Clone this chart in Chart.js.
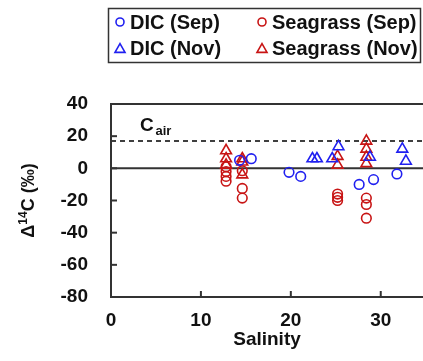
<!DOCTYPE html>
<html><head><meta charset="utf-8">
<script src="https://cdn.jsdelivr.net/npm/chart.js@4.4.1/dist/chart.umd.min.js"></script>
<style>html,body{margin:0;padding:0;background:#fff;overflow:hidden}</style>
</head><body>
<canvas id="c" width="423" height="361"></canvas>
<script>
// ---- data ----
const dicSepSal = [14.3, 15.6, 19.8, 21.1, 27.6, 29.2, 31.8];
const dicSepVal = [5, 6, -2.5, -5, -10, -7, -3.5];
const dicNovSal = [22.4, 22.9, 24.6, 25.3, 28.8, 32.4, 32.8];
const dicNovVal = [6, 6, 6, 13.5, 7, 12, 4.5];
const sgSepSal = [12.8, 12.8, 12.8, 12.8, 14.6, 14.6, 14.6, 25.2, 25.2, 25.2, 28.4, 28.4, 28.4];
const sgSepVal = [1, -2, -5, -8, -1.5, -12.5, -18.5, -16, -18, -20, -18.5, -22.5, -31];
const sgNovSal = [12.8, 12.8, 12.8, 14.6, 14.6, 14.6, 25.2, 25.2, 28.4, 28.4, 28.4, 28.4];
const sgNovVal = [11, 6, 2, 6, 4, -4, 7.5, 2, 17, 12, 7, 3];
const seriesNames = ['DIC (Sep)', 'DIC (Nov)', 'Seagrass (Sep)', 'Seagrass (Nov)'];
const xTicks = [0, 10, 20, 30];
const yTicks = [-80, -60, -40, -20, 0, 20, 40];
const cAir = 17;

const BLUE = '#2020f0', RED = '#c81414';
const FAM = "'Liberation Sans', Arial, Helvetica, sans-serif";
const pts = (xs, ys) => xs.map((x, i) => ({x: x, y: ys[i]}));

function marker(ctx, style, x, y, r, color) {
  ctx.save();
  ctx.strokeStyle = color; ctx.lineWidth = 1.6;
  ctx.beginPath();
  if (style === 'circle') {
    ctx.arc(x, y, r, 0, Math.PI * 2);
  } else {
    ctx.moveTo(x, y - r);
    ctx.lineTo(x + r * Math.sin(2 * Math.PI / 3), y + r / 2);
    ctx.lineTo(x - r * Math.sin(2 * Math.PI / 3), y + r / 2);
    ctx.closePath();
  }
  ctx.stroke();
  ctx.restore();
}

const deco = {
  id: 'deco',
  beforeDatasetsDraw(chart) {
    const {ctx, chartArea: a, scales: {x, y}} = chart;
    ctx.save();
    // C_air dashed line
    const yc = y.getPixelForValue(cAir);
    ctx.strokeStyle = '#000'; ctx.lineWidth = 1.5; ctx.setLineDash([5, 4]);
    ctx.beginPath(); ctx.moveTo(a.left, yc); ctx.lineTo(a.right, yc); ctx.stroke();
    ctx.setLineDash([]);
    // zero line
    const y0 = y.getPixelForValue(0);
    ctx.strokeStyle = '#333'; ctx.lineWidth = 2;
    ctx.beginPath(); ctx.moveTo(a.left, y0); ctx.lineTo(a.right, y0); ctx.stroke();
    // frame (top, left, bottom)
    ctx.beginPath();
    ctx.moveTo(a.right + 2, a.top); ctx.lineTo(a.left, a.top);
    ctx.lineTo(a.left, a.bottom); ctx.lineTo(a.right + 2, a.bottom);
    ctx.stroke();
    // inward ticks
    yTicks.forEach(v => {
      const p = y.getPixelForValue(v);
      ctx.beginPath(); ctx.moveTo(a.left, p); ctx.lineTo(a.left + 6, p); ctx.stroke();
    });
    xTicks.forEach(v => {
      const p = x.getPixelForValue(v);
      ctx.beginPath(); ctx.moveTo(p, a.bottom); ctx.lineTo(p, a.bottom - 6); ctx.stroke();
    });
    ctx.restore();
  },
  afterDraw(chart) {
    const {ctx, chartArea: a} = chart;
    ctx.save();
    // C_air label
    ctx.fillStyle = '#111';
    ctx.textBaseline = 'alphabetic'; ctx.textAlign = 'left';
    ctx.font = 'bold 19px ' + FAM;
    ctx.fillText('C', 140, 131);
    ctx.font = 'bold 13px ' + FAM;
    ctx.fillText('air', 155.5, 135);
    // y-axis title (rotated) : Δ 14C (‰)
    const cy = (a.top + a.bottom) / 2;
    ctx.translate(34, cy);
    ctx.rotate(-Math.PI / 2);
    const big = 'bold 18px ' + FAM, small = 'bold 12px ' + FAM;
    ctx.font = big; const w1 = ctx.measureText('\u0394').width;
    ctx.font = small; const w2 = ctx.measureText('14').width;
    ctx.font = big; const w3 = ctx.measureText('C (\u2030)').width;
    let sx = -(w1 + w2 + w3) / 2;
    ctx.font = big; ctx.fillText('\u0394', sx, 0); sx += w1;
    ctx.font = small; ctx.fillText('14', sx, -7); sx += w2;
    ctx.font = big; ctx.fillText('C (\u2030)', sx, 0);
    ctx.restore();

    // legend
    ctx.save();
    ctx.strokeStyle = '#333'; ctx.lineWidth = 1.5;
    ctx.strokeRect(108.5, 8.5, 312, 54);
    ctx.font = 'bold 20px ' + FAM; ctx.fillStyle = '#111';
    ctx.textBaseline = 'middle'; ctx.textAlign = 'left';
    const items = [
      {ds: 0, x: 120, y: 22}, {ds: 2, x: 262, y: 22},
      {ds: 1, x: 120, y: 48}, {ds: 3, x: 262, y: 48}
    ];
    items.forEach(it => {
      const d = chart.data.datasets[it.ds];
      marker(ctx, d.pointStyle, it.x, it.y + (d.pointStyle === 'triangle' ? 1.5 : 0),
             d.pointStyle === 'circle' ? 4 : 5.8, d.borderColor);
      ctx.fillText(d.label, it.x + 10, it.y + 1);
    });
    ctx.restore();
  }
};

const font = {family: FAM, size: 19, weight: 'bold'};
new Chart(document.getElementById('c'), {
  type: 'scatter',
  data: {
    datasets: [
      {label: seriesNames[0], data: pts(dicSepSal, dicSepVal), pointStyle: 'circle', pointRadius: 4.8, borderColor: BLUE},
      {label: seriesNames[1], data: pts(dicNovSal, dicNovVal), pointStyle: 'triangle', pointRadius: 6.2, borderColor: BLUE},
      {label: seriesNames[2], data: pts(sgSepSal, sgSepVal), pointStyle: 'circle', pointRadius: 4.8, borderColor: RED},
      {label: seriesNames[3], data: pts(sgNovSal, sgNovVal), pointStyle: 'triangle', pointRadius: 6.2, borderColor: RED}
    ].map(d => Object.assign(d, {backgroundColor: 'rgba(0,0,0,0)', borderWidth: 1.6, pointHoverRadius: d.pointRadius}))
  },
  options: {
    responsive: false, animation: false,
    layout: {autoPadding: false, padding: {top: 104, left: 0, right: 0, bottom: 0}},
    plugins: {legend: {display: false}, tooltip: {enabled: false}},
    scales: {
      x: {
        type: 'linear', min: 0, max: 34.7,
        afterBuildTicks: s => { s.ticks = xTicks.map(v => ({value: v})); },
        afterFit: s => { s.height = 64; s.paddingLeft = 0; s.paddingRight = 0; },
        ticks: {font: font, color: '#111', padding: 12, maxRotation: 0, autoSkip: false},
        grid: {display: false, drawTicks: false}, border: {display: false},
        title: {display: true, text: 'Salinity', font: font, color: '#111', padding: {top: 0, bottom: 10}}
      },
      y: {
        min: -80, max: 40,
        afterBuildTicks: s => { s.ticks = yTicks.map(v => ({value: v})); },
        afterFit: s => { s.width = 111; },
        ticks: {font: font, color: '#111', padding: 23},
        grid: {display: false, drawTicks: false}, border: {display: false}
      }
    }
  },
  plugins: [deco]
});
</script>
</body></html>
